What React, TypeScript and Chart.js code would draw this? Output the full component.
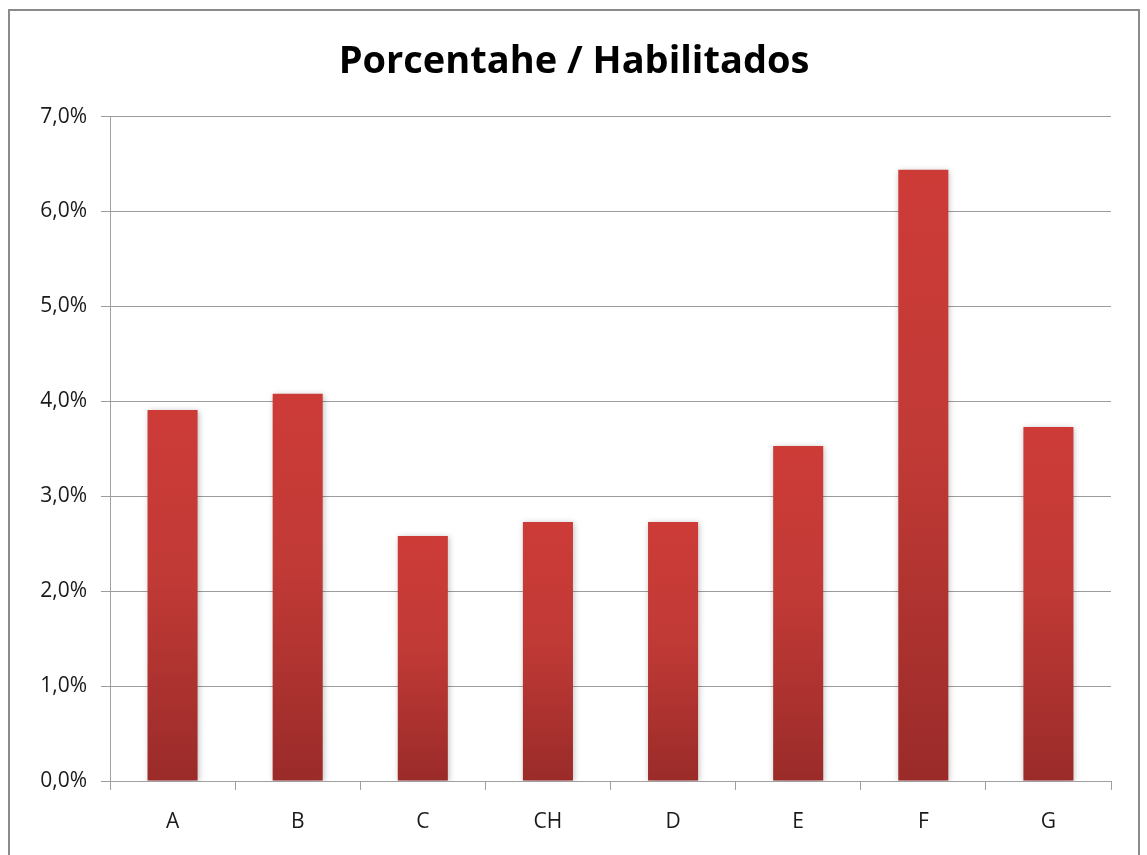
import React, { useEffect, useRef } from "react";
import { Chart, registerables } from "chart.js";

Chart.register(...registerables);

const categories = ["A", "B", "C", "CH", "D", "E", "F", "G"];
const values = [3.91, 4.08, 2.58, 2.73, 2.73, 3.53, 6.44, 3.73];
const titleText = "Porcentahe / Habilitados";
const yMax = 7;
const yStep = 1;

const FONT = "'Open Sans', 'Noto Sans', sans-serif";

const shadowPlugin = {
  id: "barShadow",
  beforeDatasetsDraw(chart: any) {
    const c = chart.ctx;
    c.save();
    c.shadowColor = "rgba(0,0,0,0.25)";
    c.shadowBlur = 6;
    c.shadowOffsetX = 1;
    c.shadowOffsetY = 1;
  },
  afterDatasetsDraw(chart: any) {
    chart.ctx.restore();
  },
};

export default function App() {
  const ref = useRef<HTMLCanvasElement>(null);

  useEffect(() => {
    document.body.style.overflow = "hidden";
    const canvas = ref.current;
    if (!canvas) return;
    const chart = new Chart(canvas, {
      type: "bar",
      data: {
        labels: categories,
        datasets: [
          {
            data: values,
            barPercentage: 0.8,
            categoryPercentage: 0.5,
            backgroundColor: (ctx: any) => {
              const ch = ctx.chart;
              if (!ch.chartArea || ctx.raw == null) return "#c0392b";
              const ys = ch.scales.y;
              const top = ys.getPixelForValue(ctx.raw);
              const bottom = ys.getPixelForValue(0);
              const g = ch.ctx.createLinearGradient(0, top, 0, bottom);
              g.addColorStop(0, "#cd3b37");
              g.addColorStop(0.45, "#c13a36");
              g.addColorStop(1, "#9a2b29");
              return g;
            },
            borderWidth: 0,
          },
        ],
      },
      options: {
        animation: false,
        responsive: false,
        layout: { padding: { top: 0, right: 27, bottom: 0, left: 27 } },
        plugins: {
          legend: { display: false },
          tooltip: { enabled: false },
          title: {
            display: true,
            text: titleText,
            color: "#000",
            font: { family: FONT, size: 38, weight: "bold" },
            padding: { top: 28, bottom: 32 },
          },
        },
        scales: {
          x: {
            grid: {
              display: true,
              drawOnChartArea: false,
              drawTicks: true,
              tickLength: 9,
              color: "#a0a0a0",
              offset: true,
            },
            border: { color: "#a0a0a0", width: 1 },
            ticks: {
              color: "#1a1a1a",
              font: { family: FONT, size: 21 },
              padding: 19,
            },
            afterFit: (s: any) => {
              s.height = 74;
            },
          },
          y: {
            min: 0,
            max: yMax,
            ticks: {
              stepSize: yStep,
              color: "#1a1a1a",
              font: { family: FONT, size: 21 },
              padding: 14,
              callback: (v: any) => Number(v).toFixed(1).replace(".", ",") + "%",
            },
            grid: { color: "#9c9c9c", tickLength: 9, lineWidth: 1 },
            border: { color: "#a0a0a0", width: 1 },
            afterFit: (s: any) => {
              s.width = 73;
            },
          },
        },
      },
      plugins: [shadowPlugin],
    });
    return () => chart.destroy();
  }, []);

  return (
    <div
      style={{
        position: "fixed",
        left: 8,
        top: 9,
        width: 1128,
        height: 846,
        borderTop: "2px solid #8a8a8a",
        borderLeft: "2px solid #8a8a8a",
        borderRight: "2px solid #8a8a8a",
        background: "#fff",
      }}
    >
      <canvas ref={ref} width={1128} height={844} style={{ display: "block" }} />
    </div>
  );
}
